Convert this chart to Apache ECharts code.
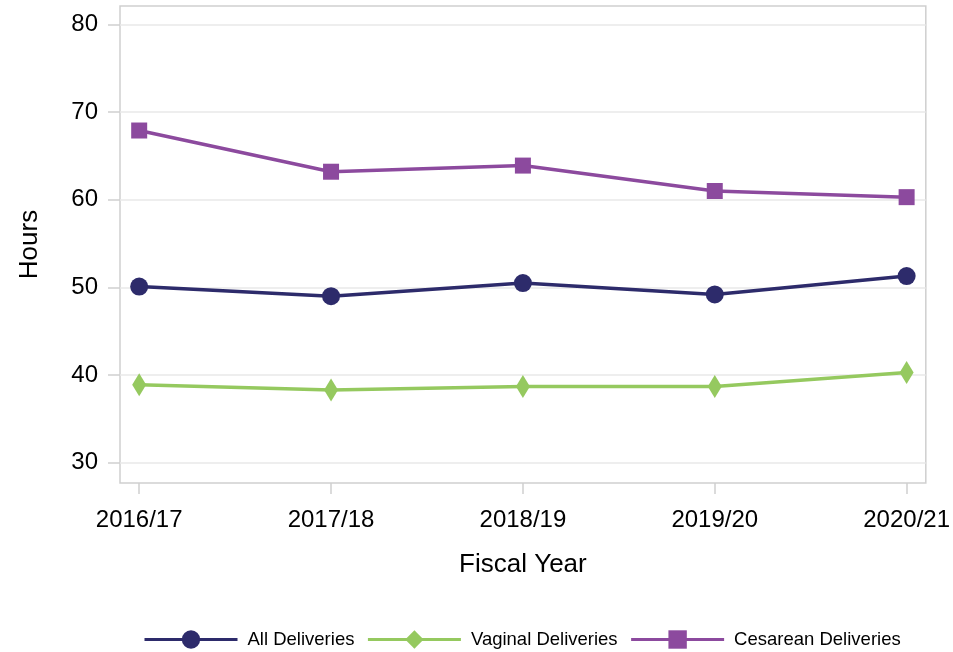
<!DOCTYPE html>
<html><head><meta charset="utf-8">
<script src="https://cdn.jsdelivr.net/npm/echarts@6/dist/echarts.min.js"></script>
<style>html,body{margin:0;padding:0;background:#fff}#c{width:953px;height:652px}</style>
</head><body><div id="c"></div>
<script>
const categories = ['2016/17', '2017/18', '2018/19', '2019/20', '2020/21'];
const allDeliveries = [50.1, 49.0, 50.5, 49.2, 51.3];
const vaginalDeliveries = [38.9, 38.3, 38.7, 38.7, 40.3];
const cesareanDeliveries = [67.9, 63.2, 63.9, 61.0, 60.3];
const yTicks = [30, 40, 50, 60, 70, 80];

const font = 'Liberation Sans, Arial, sans-serif';
const toPairs = arr => arr.map((v, i) => [i, v]);
const chart = echarts.init(document.getElementById('c'), null, {renderer: 'canvas'});
chart.setOption({
  animation: false,
  textStyle: {fontFamily: font},
  grid: {left: 120, right: 27, top: 6, bottom: 169, show: true, borderColor: '#cfcfcf', borderWidth: 1.5, containLabel: false},
  xAxis: {
    type: 'value', min: -0.1, max: 4.1,
    name: 'Fiscal Year', nameLocation: 'middle', nameGap: 69,
    nameTextStyle: {fontSize: 26, color: '#000', fontFamily: font},
    axisLine: {show: false, onZero: false},
    axisTick: {show: true, inside: false, length: 11, lineStyle: {color: '#cfcfcf', width: 1.5}, customValues: [0,1,2,3,4]},
    axisLabel: {customValues: [0,1,2,3,4], formatter: v => categories[Math.round(v)], fontSize: 24, color: '#000', margin: 25, fontFamily: font},
    splitLine: {show: false}
  },
  yAxis: {
    type: 'value', min: 27.7, max: 82.1,
    name: 'Hours', nameLocation: 'middle', nameGap: 77, nameRotate: 90,
    nameTextStyle: {fontSize: 26, color: '#000', fontFamily: font},
    axisLine: {show: false, onZero: false},
    axisTick: {show: true, inside: false, length: 12, lineStyle: {color: '#cfcfcf', width: 1.5}, customValues: yTicks},
    axisLabel: {customValues: yTicks, fontSize: 24, color: '#000', margin: 22, fontFamily: font},
    splitLine: {show: true, lineStyle: {color: '#e8e8e8', width: 1.5}}
  },
  legend: {
    top: 630, left: 143, padding: 0, itemWidth: 93, itemHeight: 23, itemGap: 12,
    lineStyle: {width: 3},
    textStyle: {fontSize: 18.5, color: '#000', fontFamily: font, padding: [0, 0, 0, 5]},
    data: ['All Deliveries', 'Vaginal Deliveries', 'Cesarean Deliveries']
  },
  series: [
    {name: 'All Deliveries', type: 'line', data: toPairs(allDeliveries), symbol: 'circle', symbolSize: 18,
     lineStyle: {color: '#2d2b6b', width: 3.5}, itemStyle: {color: '#2d2b6b'}},
    {name: 'Vaginal Deliveries', type: 'line', data: toPairs(vaginalDeliveries), symbol: 'diamond', symbolSize: [14, 23],
     lineStyle: {color: '#95c95f', width: 3.5}, itemStyle: {color: '#95c95f'}},
    {name: 'Cesarean Deliveries', type: 'line', data: toPairs(cesareanDeliveries), symbol: 'rect', symbolSize: 16,
     lineStyle: {color: '#8c4a9e', width: 3.5}, itemStyle: {color: '#8c4a9e'}}
  ]
});
</script></body></html>
